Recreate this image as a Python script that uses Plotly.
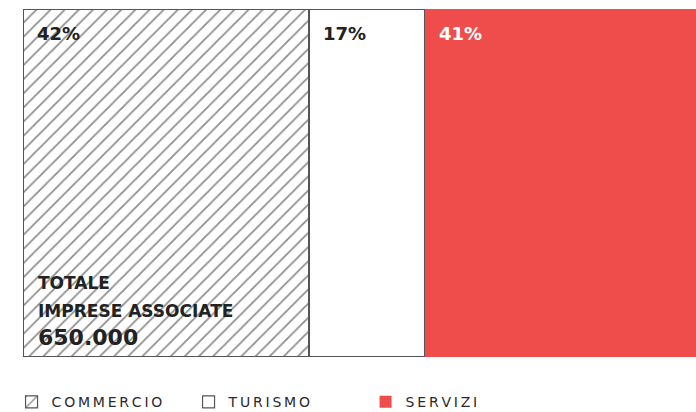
import plotly.graph_objects as go

categories = ["COMMERCIO", "TURISMO", "SERVIZI"]
values = [42, 17, 41]
labels = ["42%", "17%", "41%"]
total_label = ["TOTALE", "IMPRESE ASSOCIATE", "650.000"]

FONT = "DejaVu Sans"
fills = ["white", "white", "#EE4D4B"]
label_colors = ["#222222", "#222222", "white"]

def spaced(s):
    return "\u2009".join(s)

fig = go.Figure()
for i, (cat, v) in enumerate(zip(categories, values)):
    marker = dict(color=fills[i], line=dict(color="#555555", width=1.2))
    if i == 0:
        marker["pattern"] = dict(shape="/", fgcolor="#1e1e1e", bgcolor="white",
                                 size=10, solidity=0.18, fillmode="overlay")
    if i == 2:
        marker["line"] = dict(color="#EE4D4B", width=0)
    fig.add_trace(go.Bar(
        y=[0], x=[v], orientation="h", name=spaced(cat),
        marker=marker, width=1, hoverinfo="skip",
    ))

# percentage labels at top-left of each segment
cum = 0
for i, v in enumerate(values):
    fig.add_annotation(x=cum, y=0.5, xref="x", yref="y", text=f"<b>{labels[i]}</b>",
                       showarrow=False, xanchor="left", yanchor="middle",
                       xshift=12, yshift=-24,
                       font=dict(family=FONT, size=18, color=label_colors[i]))
    cum += v

for txt, size, shift in zip(total_label, [17, 17, 22], [74, 46, 20]):
    fig.add_annotation(x=0, y=-0.5, xref="x", yref="y", text=f"<b>{txt}</b>",
                       showarrow=False, xanchor="left", yanchor="middle", align="left",
                       xshift=13, yshift=shift,
                       font=dict(family=FONT, size=size, color="#222222"))

fig.update_layout(
    barmode="stack",
    width=696, height=412,
    margin=dict(l=23, r=0, t=9, b=55, autoexpand=False),
    paper_bgcolor="white", plot_bgcolor="white",
    xaxis=dict(range=[0, 98.8], visible=False, fixedrange=True),
    yaxis=dict(range=[-0.5, 0.5], visible=False, fixedrange=True),
    showlegend=True,
    legend=dict(orientation="h", x=-0.017, xanchor="left", y=-0.13, yanchor="middle",
                font=dict(family=FONT, size=14, color="#2a2a2a"),
                itemwidth=30, traceorder="normal", entrywidth=132),
)

fig.write_html("out.html", config={"displayModeBar": False},
               post_script="document.body.style.margin='0';document.body.style.padding='0';")
